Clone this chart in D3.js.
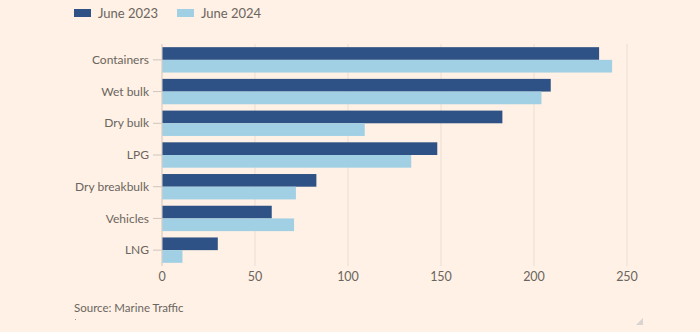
<!DOCTYPE html>
<html>
<head>
<meta charset="utf-8">
<script src="https://cdn.jsdelivr.net/npm/d3@7"></script>
<style>
  html, body { margin: 0; padding: 0; background: #FFF1E5; }
  svg { display: block; }
  text { font-family: Lato, "Open Sans", sans-serif; fill: #6B6560; }
</style>
</head>
<body>
<svg id="chart" width="700" height="332"></svg>
<script>
const categories = ["Containers", "Wet bulk", "Dry bulk", "LPG", "Dry breakbulk", "Vehicles", "LNG"];
const seriesNames = ["June 2023", "June 2024"];
const june2023 = [235, 209, 183, 148, 83, 59, 30];
const june2024 = [242, 204, 109, 134, 72, 71, 11];
const xTicks = [0, 50, 100, 150, 200, 250];
const sourceText = "Source: Marine Traffic";

const colors = ["#2E5285", "#A1D0E5"];
const svg = d3.select("#chart");
const W = 700, H = 332;
svg.append("rect").attr("width", W).attr("height", H).attr("fill", "#FFF1E5");

const x = d3.scaleLinear().domain([0, 250]).range([162, 627]);
const y = d3.scaleBand().domain(categories).range([44, 266]).paddingInner(0.2).paddingOuter(0.1);
const ySub = d3.scaleBand().domain(seriesNames).range([0, y.bandwidth()]);

// gridlines
svg.append("g").selectAll("line").data(xTicks).join("line")
  .attr("x1", d => x(d)).attr("x2", d => x(d))
  .attr("y1", 44).attr("y2", 266)
  .attr("stroke", "#E9DDD3").attr("stroke-width", 1);

// y tick lines
svg.append("g").selectAll("line").data(categories).join("line")
  .attr("x1", 153).attr("x2", 162)
  .attr("y1", d => y(d) + y.bandwidth() / 2).attr("y2", d => y(d) + y.bandwidth() / 2)
  .attr("stroke", "#CEC6BF").attr("stroke-width", 1);

// bars
const data = [june2023, june2024];
data.forEach((vals, si) => {
  svg.append("g").selectAll("rect").data(categories).join("rect")
    .attr("x", x(0))
    .attr("y", (c) => y(c) + ySub(seriesNames[si]))
    .attr("width", (c, i) => x(vals[i]) - x(0))
    .attr("height", ySub.bandwidth())
    .attr("fill", colors[si]);
});

// zero axis line
svg.append("line").attr("x1", x(0)).attr("x2", x(0)).attr("y1", 44).attr("y2", 266)
  .attr("stroke", "#D8CEC6").attr("stroke-width", 1);

// y labels
svg.append("g").selectAll("text").data(categories).join("text")
  .attr("x", 149).attr("y", d => y(d) + y.bandwidth() / 2)
  .attr("dy", "0.35em").attr("text-anchor", "end")
  .attr("font-size", 12).text(d => d);

// x labels
svg.append("g").selectAll("text").data(xTicks).join("text")
  .attr("x", d => x(d)).attr("y", 277)
  .attr("dy", "0.35em").attr("text-anchor", "middle")
  .attr("font-size", 12.5).text(d => d);

// legend
const legX = [74, 177];
seriesNames.forEach((n, i) => {
  svg.append("rect").attr("x", legX[i]).attr("y", 9).attr("width", 17).attr("height", 8).attr("fill", colors[i]);
  svg.append("text").attr("x", legX[i] + 24).attr("y", 13).attr("dy", "0.35em")
    .attr("font-size", 13).text(n);
});

// source
svg.append("text").attr("x", 74).attr("y", 312).attr("font-size", 11.5).text(sourceText);
svg.append("line").attr("x1", 75).attr("x2", 76).attr("y1", 319.5).attr("y2", 319.5)
  .attr("stroke", "#9E9792").attr("stroke-width", 1);

// resize handle triangle
svg.append("path").attr("d", "M643,318 L643,325 L636,325 Z").attr("fill", "#D9D4D0");
</script>
</body>
</html>
